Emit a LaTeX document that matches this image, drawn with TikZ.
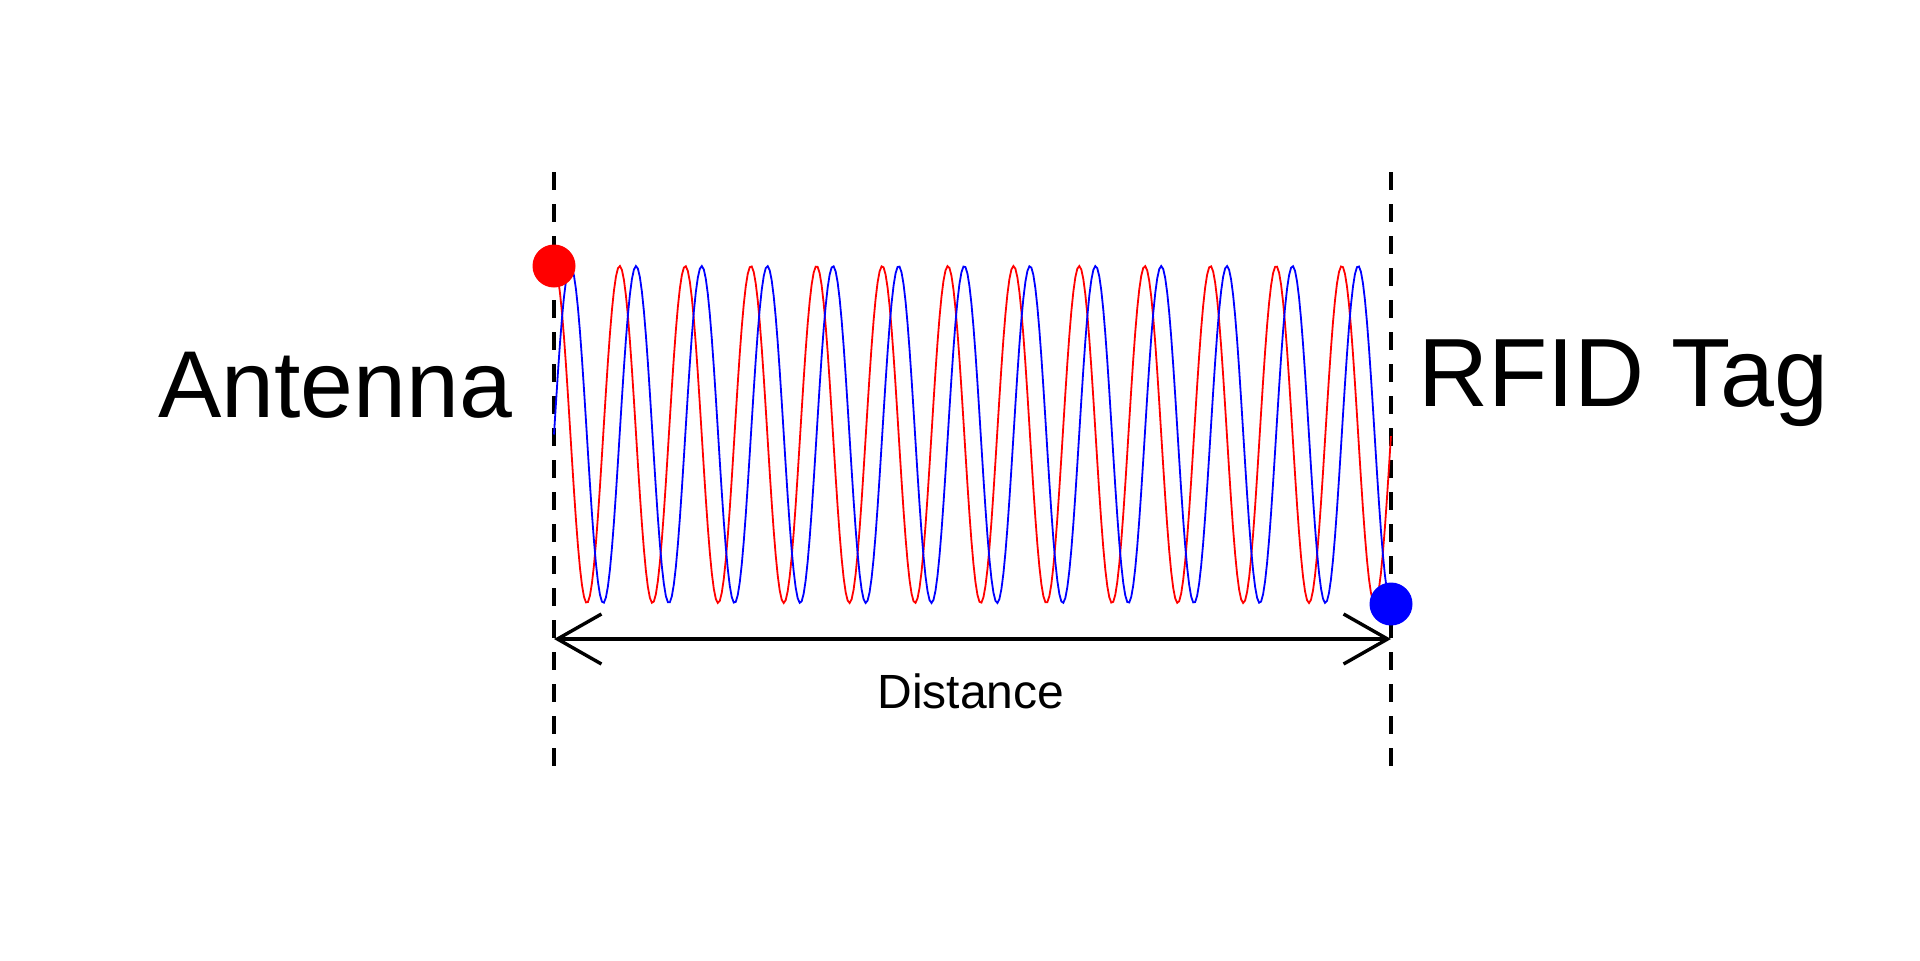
\documentclass[tikz,border=0pt]{standalone}
\usepackage{fontspec}
\setmainfont{Liberation Sans}
\usetikzlibrary{arrows.meta}
\tikzset{
  guide/.style={line width=1.6pt, dash pattern=on 9pt off 7pt, black},
  wave/.style={line width=0.9pt},
  dot/.style={circle, inner sep=0pt, minimum size=21.5pt},
  bigtext/.style={inner sep=0pt, font=\fontsize{47.5pt}{50pt}\selectfont},
  tagtext/.style={inner sep=0pt, font=\fontsize{48.5pt}{51pt}\selectfont},
  smalltext/.style={inner sep=0pt, font=\fontsize{24pt}{26pt}\selectfont},
  dimarrow/.style={line width=1.7pt, {Straight Barb[length=22pt,width=25pt]}-{Straight Barb[length=22pt,width=25pt]}}
}
\begin{document}
\begin{tikzpicture}[x=0.5pt,y=-0.5pt]
\useasboundingbox (0,0) rectangle (1920,960);
% guide lines
\coordinate (lt) at (554,172);
\coordinate (lb) at (554,766);
\coordinate (rt) at (1391,172);
\coordinate (rb) at (1391,766);
\draw[guide] (lt) -- (lb);
\draw[guide] (rt) -- (rb);
% waves
\draw[wave, red] plot[domain=0:12.75, samples=420] ({554+65.647*\x}, {434.5-168.5*cos(360*\x)});
\draw[wave, blue] plot[domain=0:12.75, samples=420] ({554+65.647*\x}, {434.5-168.5*sin(360*\x)});
% dots
\node[dot, fill=red] (rdot) at (554,266) {};
\node[dot, fill=blue] (bdot) at (1391,604) {};
% distance arrow
\coordinate (al) at (554,639);
\coordinate (ar) at (1391,639);
\draw[dimarrow] (al) -- (ar);
% labels
\node[bigtext, anchor=base west] (ant) at (158,417) {Antenna};
\node[tagtext, anchor=base west] (tag) at (1418,406) {RFID Tag};
\node[smalltext, anchor=base] (dist) at (971,708) {Distance};
\end{tikzpicture}
\end{document}
